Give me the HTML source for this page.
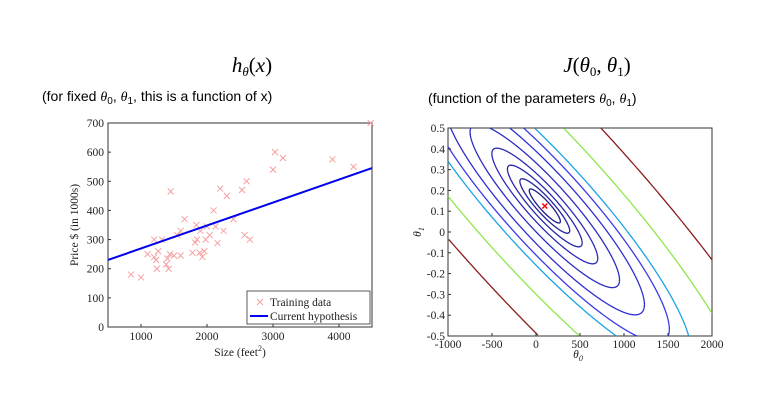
<!DOCTYPE html>
<html><head><meta charset="utf-8"><style>
html,body{margin:0;padding:0;background:#fff;width:784px;height:416px;overflow:hidden}
svg{display:block}
.t{font-family:"Liberation Serif",serif;font-size:11.5px;fill:#222}
.sub{font-family:"Liberation Sans",sans-serif;font-size:14px;fill:#000}
.ti{font-family:"Liberation Serif",serif;font-size:21px;fill:#000}
</style></head><body>
<svg id="c" width="784" height="416" overflow="hidden">
<text class="ti" x="252" y="72" text-anchor="middle"><tspan font-style="italic">h</tspan><tspan font-size="13" dy="4" font-style="italic">θ</tspan><tspan dy="-4">(</tspan><tspan font-style="italic">x</tspan>)</text>
<text class="sub" x="42" y="101">(for fixed <tspan font-family="Liberation Serif" font-style="italic">θ</tspan><tspan font-size="10" dy="3">0</tspan><tspan dy="-3">, </tspan><tspan font-family="Liberation Serif" font-style="italic">θ</tspan><tspan font-size="10" dy="3">1</tspan><tspan dy="-3">, this is a function of x)</tspan></text>
<text class="ti" x="597" y="72" text-anchor="middle"><tspan font-style="italic">J</tspan>(<tspan font-style="italic">θ</tspan><tspan font-size="13" dy="4">0</tspan><tspan dy="-4">, </tspan><tspan font-style="italic">θ</tspan><tspan font-size="13" dy="4">1</tspan><tspan dy="-4">)</tspan></text>
<text class="sub" x="428" y="103">(function of the parameters <tspan font-family="Liberation Serif" font-style="italic">θ</tspan><tspan font-size="10" dy="3">0</tspan><tspan dy="-3">, </tspan><tspan font-family="Liberation Serif" font-style="italic">θ</tspan><tspan font-size="10" dy="3">1</tspan><tspan dy="-3">)</tspan></text>
<g id="left"></g><g id="right"></g>
</svg>
<script>
const sizes=[850,1000,1100,1200,1200,1230,1240,1260,1320,1380,1400,1420,1440,1450,1500,1550,1600,1600,1660,1780,1820,1840,1850,1890,1900,1930,1960,1980,2000,2040,2100,2130,2160,2200,2250,2300,2400,2530,2570,2600,2650,3000,3030,3150,3900,4220,4480];
const prices=[180,170,250,300,240,230,200,260,300,215,235,200,250,465,245,315,330,245,370,255,290,350,300,255,330,240,260,300,345,315,400,345,288,475,330,450,370,470,315,500,300,540,600,580,575,550,700];
const hypothesis=[190.6,0.0788];
const xTicks=[1000,2000,3000,4000];
const yTicks=[0,100,200,300,400,500,600,700];
const contourLevels=[25,64,144,289,576,1024,1600,2209,4489,8836];
const contourColors=["#1e1e8a","#23239a","#2626a8","#2a2ab8","#2c2cc6","#2e2ed2","#3a3ae8","#1aa3e8","#8ee64c","#8b1c1c"];
const minimum=[100,0.125];
const t0Ticks=[-1000,-500,0,500,1000,1500,2000];
const t1Ticks=[0.5,0.4,0.3,0.2,0.1,0,-0.1,-0.2,-0.3,-0.4,-0.5];
const NS="http://www.w3.org/2000/svg";
function mk(p,tag,a){const e=document.createElementNS(NS,tag);for(const k in a)e.setAttribute(k,a[k]);p.appendChild(e);return e;}
// left
const L=document.getElementById('left');
const lx0=108,lx1=372,ly0=327,ly1=123;
const sx=v=>lx0+(v-500)/4000*(lx1-lx0), sy=v=>ly0-v/700*(ly0-ly1);
let fr=mk(L,'rect',{x:lx0,y:ly1,width:lx1-lx0,height:ly0-ly1,fill:'#fff',stroke:'#333','stroke-width':1});

xTicks.forEach(v=>{mk(L,'line',{x1:sx(v),x2:sx(v),y1:ly0,y2:ly0-3,stroke:'#333'});const t=mk(L,'text',{x:sx(v),y:ly0+13,class:'t','text-anchor':'middle'});t.textContent=v;});
yTicks.forEach(v=>{mk(L,'line',{x1:lx0,x2:lx0+3,y1:sy(v),y2:sy(v),stroke:'#333'});const t=mk(L,'text',{x:lx0-4,y:sy(v)+4,class:'t','text-anchor':'end'});t.textContent=v;});
let xl=mk(L,'text',{x:240,y:356,class:'t','text-anchor':'middle'});xl.innerHTML='Size (feet<tspan font-size="8" dy="-5">2</tspan><tspan dy="5">)</tspan>';

let yl=mk(L,'text',{x:0,y:0,class:'t','text-anchor':'middle',transform:'translate(78,225) rotate(-90)'});yl.textContent='Price $ (in 1000s)';

sizes.forEach((s,i)=>{const g=mk(L,'path',{d:`M${sx(s)-3},${sy(prices[i])-3}l6,6m0,-6l-6,6`,stroke:'#f4a0a0','stroke-width':1});
});
const hl=mk(L,'line',{x1:sx(500),y1:sy(hypothesis[0]+hypothesis[1]*500),x2:sx(4500),y2:sy(hypothesis[0]+hypothesis[1]*4500),stroke:'#0000ee','stroke-width':2});

const lg=mk(L,'g',{});
mk(lg,'rect',{x:247,y:291,width:123,height:33,fill:'#fff',stroke:'#333','stroke-width':0.8});
mk(lg,'path',{d:'M257,299l6,6m0,-6l-6,6',stroke:'#f4a0a0'});
let lt=mk(lg,'text',{x:270,y:306,class:'t'});lt.textContent='Training data';
mk(lg,'line',{x1:250,x2:268,y1:316,y2:316,stroke:'#0000ee','stroke-width':2});
lt=mk(lg,'text',{x:270,y:320,class:'t'});lt.textContent='Current hypothesis';
// right
const R=document.getElementById('right');
const rx0=448,rx1=712,ry0=336,ry1=128;
const tx=v=>rx0+(v+1000)/3000*(rx1-rx0), ty=v=>ry0-(v+0.5)/1*(ry0-ry1);
let fr2=mk(R,'rect',{x:rx0,y:ry1,width:rx1-rx0,height:ry0-ry1,fill:'#fff',stroke:'#333','stroke-width':1});

const cx=tx(minimum[0]),cy=ty(minimum[1]);
const ux=0.672,uy=0.741; // major direction
const inside=(x,y)=>x>=rx0&&x<=rx1&&y>=ry1&&y<=ry0;
contourLevels.forEach((lv,i)=>{const b=Math.sqrt(lv),a=b*4.5;
 let d='',pen=false;const N=2000;
 for(let k=0;k<=N;k++){const t=k/N*2*Math.PI;const p=a*Math.cos(t),q=b*Math.sin(t);
  const x=cx+p*ux-q*uy,y=cy+p*uy+q*ux;
  if(inside(x,y)){d+=(pen?'L':'M')+x.toFixed(2)+','+y.toFixed(2);pen=true;}else pen=false;}
 if(!d)return;
 const e=mk(R,'path',{d:d,fill:'none',stroke:contourColors[i],'stroke-width':1.3});
 });
const mm=mk(R,'path',{d:`M${cx-2.5},${cy-2.5}l5,5m0,-5l-5,5`,stroke:'#f00','stroke-width':1.5});

t0Ticks.forEach(v=>{mk(R,'line',{x1:tx(v),x2:tx(v),y1:ry0,y2:ry0-3,stroke:'#333'});const t=mk(R,'text',{x:tx(v),y:ry0+12,class:'t','text-anchor':'middle'});t.textContent=v;});
t1Ticks.forEach(v=>{mk(R,'line',{x1:rx0,x2:rx0+3,y1:ty(v),y2:ty(v),stroke:'#333'});const t=mk(R,'text',{x:rx0-3,y:ty(v)+4,class:'t','text-anchor':'end'});t.textContent=v;});
let x2=mk(R,'text',{x:578,y:358,class:'t','text-anchor':'middle','font-style':'italic'});x2.innerHTML='θ<tspan font-size="8" dy="3">0</tspan>';

let y2=mk(R,'text',{x:0,y:0,class:'t','text-anchor':'middle','font-style':'italic',transform:'translate(421,232) rotate(-90)'});y2.innerHTML='θ<tspan font-size="8" dy="3">1</tspan>';

</script>
</body></html>
